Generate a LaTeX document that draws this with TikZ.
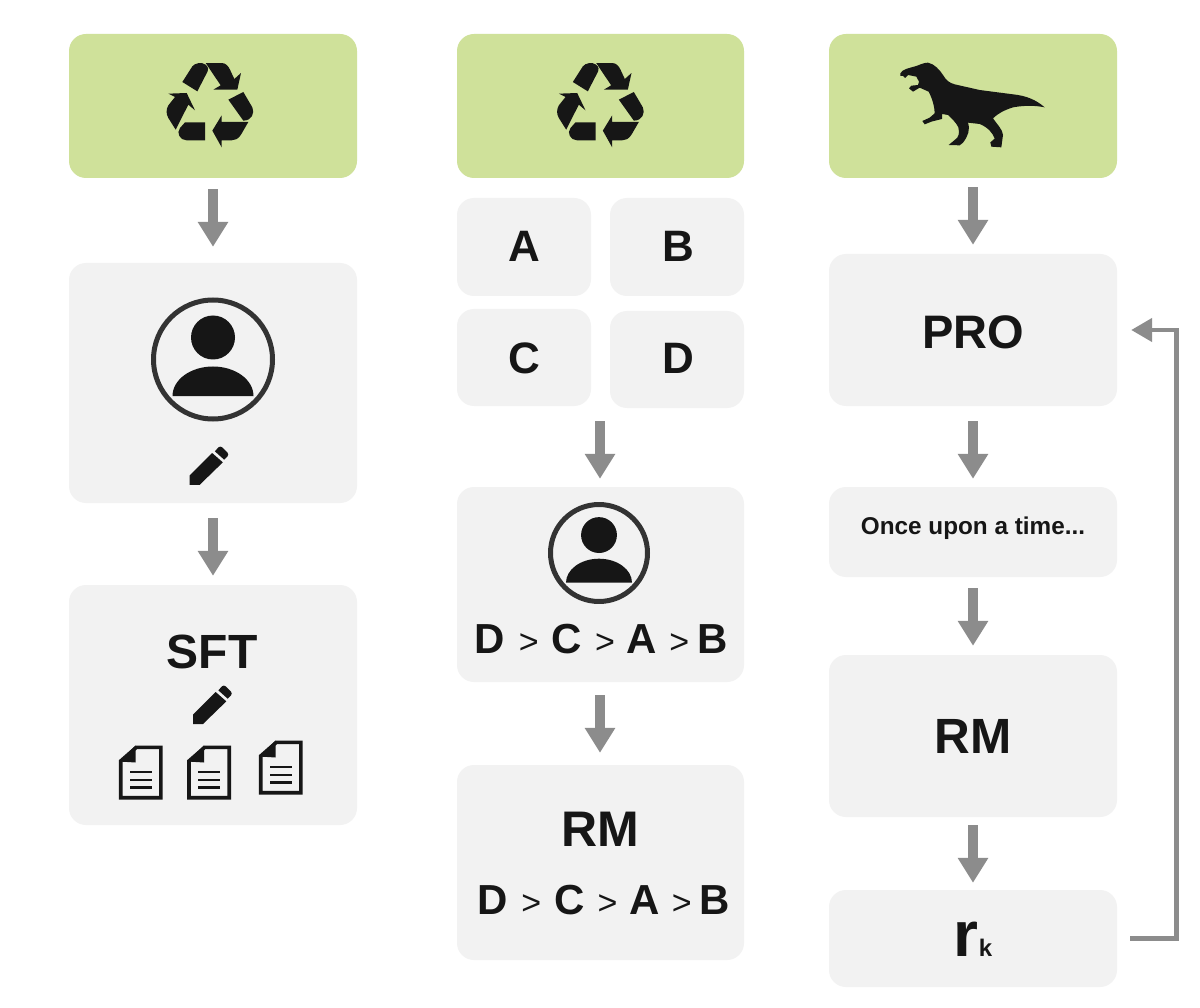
\documentclass[tikz,border=0pt]{standalone}
\usepackage{fontspec}
\setmainfont{Liberation Sans}
\usetikzlibrary{arrows.meta}
\definecolor{greenbox}{RGB}{207,225,154}
\definecolor{graybox}{RGB}{242,242,242}
\definecolor{arrowgray}{RGB}{140,140,140}
\definecolor{ink}{RGB}{22,22,22}
\definecolor{ringcol}{RGB}{51,51,51}
\newcommand{\lab}[1]{\fontsize{#1}{#1}\selectfont\bfseries}
\newcommand{\gt}{{\normalfont\fontsize{34}{34}\selectfont >}}
\newcommand{\ranking}{\lab{42}D\hspace{14pt}\gt\hspace{13pt}C\hspace{13pt}\gt\hspace{12pt}A\hspace{12pt}\gt\hspace{8pt}B}
\tikzset{
  x=1pt,y=-1pt,
  panel/.style n args={2}{draw=none,rectangle,inner sep=0pt,rounded corners=17pt,minimum width=#1,minimum height=#2},
  greenpanel/.style 2 args={panel={#1}{#2},fill=greenbox},
  graypanel/.style 2 args={panel={#1}{#2},fill=graybox},
  flow/.style 2 args={draw=arrowgray,line width=10pt,-{Triangle[width=29pt,length=25pt]},shorten <=#1,shorten >=#2},
  feedback/.style={draw=arrowgray,line width=4.5pt,-{Triangle[width=23pt,length=21pt]},shorten <=13pt,shorten >=14pt},
  txt/.style={text=ink,inner sep=0pt,anchor=center},
  recycle/.pic={
    \begin{scope}[x=0.3333pt,y=-0.3333pt,shift={(-210,-196)}]
      \fill[ink] (127,127) -- (157,80) .. controls (165,70) and (185,66) .. (197,75) .. controls (205,82) and (206,90) .. (203,95) -- (172,155) -- cycle;
      \fill[ink] (197,70) -- (245,70) .. controls (258,70) and (265,80) .. (270,90) -- (283,118) -- (303,100) -- (292,150) -- (220,150) -- (242,137) -- cycle;
      \fill[ink] (310,157) -- (337,203) .. controls (345,220) and (335,243) .. (310,243) -- (265,180) -- cycle;
      \fill[ink] (325,247) -- (303,285) .. controls (295,298) and (285,302) .. (275,302) -- (245,302) -- (245,323) -- (217,273) -- (245,227) -- (245,247) -- cycle;
      \fill[ink] (195,248) -- (195,302) -- (140,302) .. controls (120,302) and (108,280) .. (120,265) -- (135,248) -- cycle;
      \fill[ink] (85,162) -- (140,160) -- (165,212) -- (145,195) -- (107,270) -- (85,235) .. controls (78,222) and (78,210) .. (85,197) -- (105,172) -- cycle;
    \end{scope}
  },
  pencil/.pic={
    \begin{scope}[x=0.3333pt,y=-0.3333pt,shift={(-205,-528)}]
      \fill[ink] (148,585) -- (148,557) -- (216,489) -- (248,517) -- (178,585) -- cycle;
      \fill[ink] (224,484) -- (235,472) .. controls (238,469) and (243,469) .. (246,472) -- (262,488) .. controls (265,491) and (265,496) .. (262,499) -- (252,509) -- cycle;
    \end{scope}
  },
  person/.pic={
    \draw[ringcol,line width=5pt,fill=none] (0,0) circle[radius=59.5pt];
    \fill[ink] (0,-22) circle[radius=22pt];
    \fill[ink] (-40.5,36.5) arc[start angle=180,end angle=0,x radius=40.5pt,y radius=29.5pt] -- cycle;
  },
  docicon/.pic={
    \draw[ink,line width=3.6pt,line join=miter] (-20,-11.5) -- (-4.3,-25.2) -- (20.2,-25.2) -- (20.2,25.2) -- (-20,25.2) -- cycle;
    \fill[ink] (-21.7,-11) -- (-5,-27) -- (-5,-10) -- cycle;
    \draw[ink,line width=2.4pt] (-10.7,-0.5) -- (11,-0.5) (-10.7,7.2) -- (11,7.2) (-10.7,14.8) -- (11,14.8);
  },
  trex/.pic={
    \begin{scope}[x=0.3333pt,y=-0.3333pt,shift={(-280,-165)}]
    \fill[ink] (62,70) .. controls (68,58) and (85,55) .. (110,48) .. controls (125,42) and (135,38) .. (145,38)
      .. controls (165,42) and (180,60) .. (190,75) .. controls (200,92) and (208,98) .. (225,103)
      -- (300,120) -- (400,133) .. controls (440,137) and (470,150) .. (495,172)
      .. controls (470,167) and (440,165) .. (400,172) .. controls (375,180) and (355,190) .. (340,205)
      .. controls (350,220) and (370,240) .. (370,255) -- (365,292) -- (335,290) -- (332,277) -- (345,266)
      .. controls (340,250) and (325,232) .. (300,222) -- (265,218)
      .. controls (272,240) and (265,258) .. (250,278) -- (240,286) -- (207,285) -- (225,270)
      .. controls (238,262) and (240,250) .. (236,232) .. controls (230,218) and (215,205) .. (205,195)
      -- (187,192) -- (187,207) -- (155,215) -- (135,223) -- (128,213) -- (150,203) -- (165,190)
      .. controls (165,175) and (160,150) .. (147,125) -- (120,113) -- (100,125) -- (88,115) -- (95,107)
      -- (115,105) -- (118,95) -- (110,80) -- (85,75) -- (76,84) -- (70,78) -- (62,78) -- cycle;
    \end{scope}
  }
}
\begin{document}
\begin{tikzpicture}
\useasboundingbox[fill=white] (0,0) rectangle (1200,1008);
% column 1
\node[greenpanel={288pt}{144pt}] (g1) at (213,106) {};
\pic at (210,105) {recycle};
\node[graypanel={288pt}{240pt}] (p1) at (213,383) {};
\pic at (213,359.5) {person};
\pic at (208.5,466) {pencil};
\node[graypanel={288pt}{240pt}] (s1) at (213,705) {};
\node[txt] (sft) at (212,652) {\lab{48}SFT};
\pic at (212,705) {pencil};
\pic at (140.7,772.5) {docicon};
\pic at (209,772.5) {docicon};
\pic at (280.7,767.5) {docicon};
\draw[flow={11pt}{16pt}] (g1.south) -- (p1.north);
\draw[flow={15pt}{9pt}] (p1.south) -- (s1.north);
% column 2
\node[greenpanel={287pt}{144pt}] (g2) at (600.5,106) {};
\pic at (600.5,105) {recycle};
\node[graypanel={134pt}{98pt}] (boxa) at (524,247) {};
\node[graypanel={134pt}{98pt}] (boxb) at (677,247) {};
\node[graypanel={134pt}{97pt}] (boxc) at (524,357.5) {};
\node[graypanel={134pt}{97pt}] (boxd) at (677,359.5) {};
\node[txt] (a) at (524,246) {\lab{44}A};
\node[txt] (b) at (678,246) {\lab{44}B};
\node[txt] (c) at (524,358) {\lab{44}C};
\node[txt] (d) at (678,358) {\lab{44}D};
\coordinate (grid) at (600,408);
\node[graypanel={287pt}{195pt}] (r1) at (600.5,584.5) {};
\pic[scale=0.815,transform shape] at (599,553) {person};
\node[txt] (rank1) at (601,639) {\ranking};
\node[graypanel={287pt}{195pt}] (rm1box) at (600.5,862.5) {};
\node[txt] (rm1) at (600,829) {\lab{50}RM};
\node[txt] (rank2) at (603.5,900.5) {\ranking};
\draw[flow={13pt}{8pt}] (grid) -- (grid |- r1.north);
\draw[flow={13pt}{12pt}] (grid |- r1.south) -- (grid |- rm1box.north);
% column 3
\node[greenpanel={288pt}{144pt}] (g3) at (973,106) {};
\pic at (973,105) {trex};
\node[graypanel={288pt}{152pt}] (prob) at (973,330) {};
\node[txt] (pro) at (973,332) {\lab{47}PRO};
\node[graypanel={288pt}{90pt}] (onceb) at (973,532) {};
\node[txt] (once) at (973,528.5) {\lab{24.3}Once upon a time...};
\node[graypanel={288pt}{162pt}] (rm2b) at (973,736) {};
\node[txt] (rm2) at (973,736) {\lab{49.5}RM};
\node[graypanel={288pt}{97pt}] (rkb) at (973,938.5) {};
\node[txt] (rk) at (973,939.5) {\lab{64}r\lab{24}k};
\draw[flow={9pt}{9pt}] (g3.south) -- (prob.north);
\draw[flow={15pt}{8pt}] (prob.south) -- (onceb.north);
\draw[flow={11pt}{9pt}] (onceb.south) -- (rm2b.north);
\draw[flow={8pt}{7pt}] (rm2b.south) -- (rkb.north);
\coordinate (fbx) at (1176.5,0);
\draw[feedback] (rkb.east) -- (rkb.east -| fbx) -- (prob.east -| fbx) -- (prob.east);
\end{tikzpicture}
\end{document}
